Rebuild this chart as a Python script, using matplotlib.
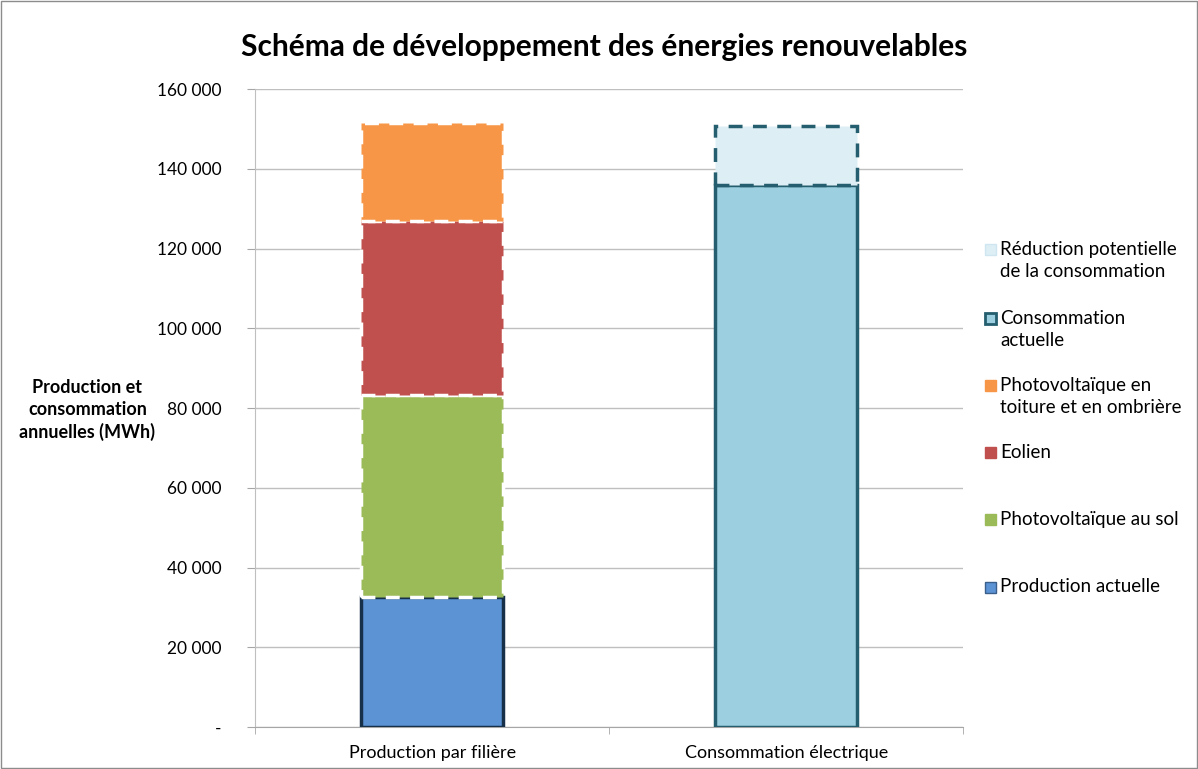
from matplotlib import pyplot as plt
from matplotlib.patches import Rectangle
from matplotlib.ticker import FuncFormatter

plt.rcParams['font.family'] = ['Lato', 'DejaVu Sans']

# data (MWh)
categories = ["Production par filière", "Consommation électrique"]

prod_labels = ["Production actuelle", "Photovoltaïque au sol", "Eolien",
               "Photovoltaïque en\ntoiture et en ombrière"]
prod_values = [32500, 50700, 43800, 24500]
prod_colors = ["#5B93D5", "#9BBB59", "#C0504D", "#F79646"]

conso_labels = ["Consommation\nactuelle", "Réduction potentielle\nde la consommation"]
conso_values = [136000, 14800]
conso_colors = ["#9CD0E0", "#DDEEF5"]

yticks = [0, 20000, 40000, 60000, 80000, 100000, 120000, 140000, 160000]

fig = plt.figure(figsize=(11.98, 7.69), dpi=100)
ax = fig.add_axes([0.213, 0.0546, 0.591, 0.8296])

width = 0.4
teal = "#255E6E"

# production bar (stacked)
bottom = 0
for i, (v, c) in enumerate(zip(prod_values, prod_colors)):
    if i == 0:
        ax.bar(0, v, width, bottom=bottom, color=c, edgecolor="#17304A",
               linewidth=2.5, zorder=3)
    else:
        ax.bar(0, v, width, bottom=bottom, color=c, edgecolor="white",
               linewidth=2.5, linestyle=(0, (4, 3)), zorder=3)
    bottom += v

# consumption bar (stacked)
ax.bar(1, conso_values[0], width, color=conso_colors[0], edgecolor=teal,
       linewidth=2.5, zorder=3)
ax.bar(1, conso_values[1], width, bottom=conso_values[0], color=conso_colors[1],
       edgecolor=teal, linewidth=2.5, linestyle=(0, (4, 3)), zorder=4)

# axes
ax.set_xlim(-0.5, 1.5)
ax.set_ylim(0, 160000)
ax.set_yticks(yticks)
ax.yaxis.set_major_formatter(FuncFormatter(
    lambda v, p: "-" if v == 0 else f"{int(v):,}".replace(",", " ")))
ax.set_xticks([0, 1])
ax.set_xticklabels(categories, fontsize=13)
ax.set_xticks([-0.5, 0.5, 1.5], minor=True)
ax.tick_params(axis="x", which="major", length=0, pad=13)
ax.tick_params(axis="x", which="minor", length=5, color="#A6A6A6")
ax.tick_params(axis="y", length=6, color="#A6A6A6", labelsize=12.5, pad=18)
ax.grid(axis="y", color="#BFBFBF", linewidth=1, zorder=0)
for s in ["top", "right"]:
    ax.spines[s].set_visible(False)
ax.spines["left"].set_color("#BFBFBF")
ax.spines["bottom"].set_color("#A6A6A6")

# title and y label
fig.text(0.504, 0.939, "Schéma de développement des énergies renouvelables",
         ha="center", va="center", fontsize=21.5, fontweight="bold")
fig.text(0.073, 0.467, "Production et\nconsommation\nannuelles (MWh)",
         ha="center", va="center", fontsize=13, fontweight="bold",
         linespacing=1.35)

# legend, drawn by hand (Excel style, first line aligned with the marker)
legend_items = [
    (conso_labels[1], conso_colors[1], "#CFE6F0", 249),
    (conso_labels[0], conso_colors[0], teal, 318),
    (prod_labels[3], prod_colors[3], prod_colors[3], 385),
    (prod_labels[2], prod_colors[2], prod_colors[2], 452),
    (prod_labels[1], prod_colors[1], prod_colors[1], 519),
    (prod_labels[0], prod_colors[0], "#3A5F8A", 587),
]
H = 769.0
W = 1198.0
for label, fc, ec, ypix in legend_items:
    fig.patches.append(Rectangle((985 / W, 1 - (ypix + 6) / H), 11 / W, 11 / H,
                                 facecolor=fc, edgecolor=ec, linewidth=2 if ec == teal else 1,
                                 transform=fig.transFigure, figure=fig))
    # multi-line labels: first line sits level with the marker
    n = label.count("\n")
    fig.text(1000 / W, 1 - (ypix + n * 23 / 2) / H, label, ha="left", va="center",
             fontsize=13.5, linespacing=1.3)

# figure frame
fig.patches.append(Rectangle((0.001, 0.001), 0.998, 0.998, fill=False,
                             edgecolor="#8C8C8C", linewidth=1,
                             transform=fig.transFigure, figure=fig))

plt.savefig("out.png", dpi=100)
